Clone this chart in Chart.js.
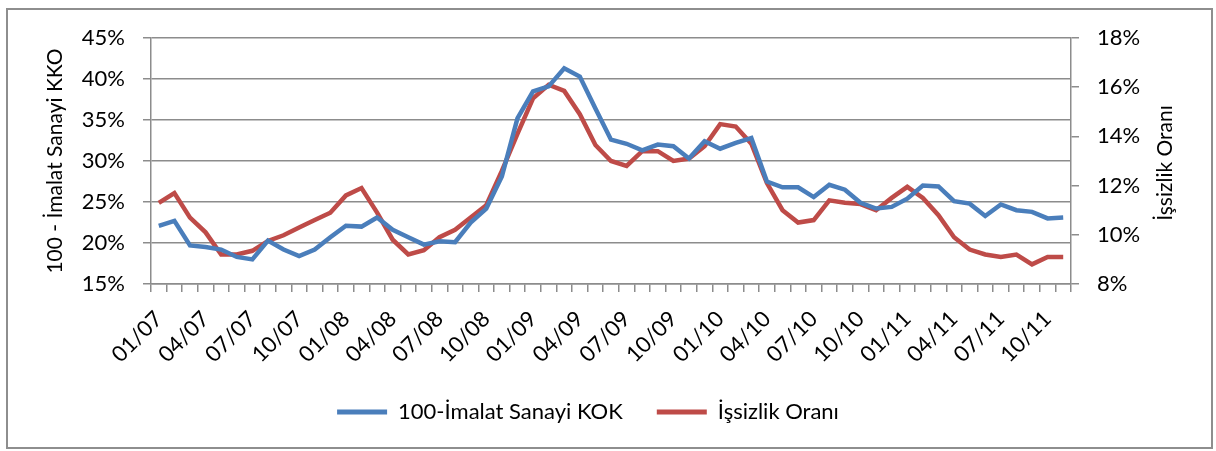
<!DOCTYPE html>
<html>
<head>
<meta charset="utf-8">
<script src="https://cdn.jsdelivr.net/npm/chart.js@4/dist/chart.umd.min.js"></script>
<style>
    html, body { margin: 0; padding: 0; background: #ffffff; }
    #wrap { position: relative; width: 1216px; height: 451px; }
    #frame {
        position: absolute; left: 6px; top: 8px; width: 1207px; height: 441px;
        box-sizing: border-box; border: 2px solid #8e8e8e; pointer-events: none;
    }
</style>
</head>
<body>
<div id="wrap">
    <canvas id="chart" width="1216" height="451"></canvas>
    <div id="frame"></div>
</div>
<script>
// Months, 01/07 .. 11/11
const months = [
    '01/07', '02/07', '03/07', '04/07', '05/07', '06/07', '07/07', '08/07', '09/07', '10/07', '11/07', '12/07',
    '01/08', '02/08', '03/08', '04/08', '05/08', '06/08', '07/08', '08/08', '09/08', '10/08', '11/08', '12/08',
    '01/09', '02/09', '03/09', '04/09', '05/09', '06/09', '07/09', '08/09', '09/09', '10/09', '11/09', '12/09',
    '01/10', '02/10', '03/10', '04/10', '05/10', '06/10', '07/10', '08/10', '09/10', '10/10', '11/10', '12/10',
    '01/11', '02/11', '03/11', '04/11', '05/11', '06/11', '07/11', '08/11', '09/11', '10/11', '11/11'
];

// Only every third month gets a label
const shownLabels = ['01/07', '04/07', '07/07', '10/07', '01/08', '04/08', '07/08', '10/08', '01/09', '04/09',
    '07/09', '10/09', '01/10', '04/10', '07/10', '10/10', '01/11', '04/11', '07/11', '10/11'];

// 100 - capacity utilisation (left axis, %)
const kok = [
    22.1, 22.7, 19.7, 19.5, 19.2, 18.3, 18.0, 20.3, 19.2, 18.4, 19.2, 20.7,
    22.1, 22.0, 23.1, 21.6, 20.7, 19.8, 20.2, 20.1, 22.5, 24.2, 28.1, 35.2,
    38.5, 39.1, 41.3, 40.3, 36.4, 32.6, 32.1, 31.3, 32.0, 31.8, 30.3, 32.4,
    31.5, 32.2, 32.8, 27.5, 26.8, 26.8, 25.6, 27.1, 26.5, 24.9, 24.2, 24.4,
    25.4, 27.0, 26.9, 25.1, 24.8, 23.3, 24.7, 24.0, 23.8, 23.0, 23.1
];

// Unemployment rate (right axis, %)
const issizlik = [
    11.3, 11.7, 10.7, 10.1, 9.2, 9.2, 9.35, 9.75, 9.98, 10.3, 10.6, 10.9,
    11.6, 11.9, 10.9, 9.8, 9.2, 9.37, 9.9, 10.2, 10.7, 11.2, 12.6, 14.1,
    15.55, 16.1, 15.85, 14.9, 13.65, 13.0, 12.8, 13.4, 13.4, 13.0, 13.1, 13.6,
    14.5, 14.4, 13.7, 12.1, 11.0, 10.5, 10.6, 11.4, 11.3, 11.25, 11.0, 11.5,
    11.95, 11.5, 10.8, 9.9, 9.4, 9.2, 9.1, 9.2, 8.8, 9.1, 9.1
];

const BLUE = '#4a7ebb';
const RED = '#be4b48';
const GRID = '#8c8c8c';
const FAMILY = 'Lato, "Open Sans", sans-serif';
const FONT = { family: FAMILY, size: 22 };
const TITLE_FONT = { family: FAMILY, size: 21 };

// Right axis title reads bottom-to-top like the left one
const rightTitle = {
    id: 'rightTitle',
    afterDraw(chart) {
        const ctx = chart.ctx;
        ctx.save();
        ctx.translate(1165, 163);
        ctx.rotate(-Math.PI / 2);
        ctx.font = TITLE_FONT.size + 'px ' + FAMILY;
        ctx.fillStyle = '#000';
        ctx.textAlign = 'center';
        ctx.textBaseline = 'middle';
        ctx.fillText('İşsizlik Oranı', 0, 0);
        ctx.restore();
    }
};

Chart.defaults.font.family = FAMILY;
Chart.defaults.font.size = FONT.size;
Chart.defaults.color = '#000';

new Chart(document.getElementById('chart'), {
    type: 'line',
    data: {
        labels: months,
        datasets: [
            {
                label: '100-İmalat Sanayi KOK',
                data: kok,
                yAxisID: 'y',
                borderColor: BLUE,
                backgroundColor: BLUE,
                borderWidth: 4.5,
                pointRadius: 0,
                tension: 0
            },
            {
                label: 'İşsizlik Oranı',
                data: issizlik,
                yAxisID: 'y2',
                borderColor: RED,
                backgroundColor: RED,
                borderWidth: 4.5,
                pointRadius: 0,
                tension: 0
            }
        ]
    },
    options: {
        responsive: false,
        animation: false,
        // right padding keeps the legend centred where the original has it
        layout: { padding: { top: 38, bottom: 18, left: 0, right: 40 } },
        plugins: {
            tooltip: { enabled: false },
            legend: {
                position: 'bottom',
                labels: {
                    boxWidth: 50,
                    boxHeight: 5,
                    padding: 34,
                    font: FONT,
                    generateLabels(chart) {
                        return chart.data.datasets.map((ds, i) => ({
                            text: ds.label,
                            fillStyle: ds.borderColor,
                            strokeStyle: ds.borderColor,
                            lineWidth: 0,
                            datasetIndex: i
                        }));
                    }
                }
            }
        },
        scales: {
            x: {
                offset: true,
                grid: { offset: true, drawOnChartArea: false, drawTicks: true, tickLength: 8, color: GRID, lineWidth: 1.5 },
                border: { color: GRID, width: 1.5 },
                ticks: {
                    autoSkip: false,
                    maxRotation: 45,
                    minRotation: 45,
                    padding: 14,
                    font: FONT,
                    callback(value) {
                        const m = months[value];
                        return shownLabels.includes(m) ? m : '';
                    }
                },
                afterFit(scale) { scale.height = 83; }
            },
            y: {
                position: 'left',
                min: 15,
                max: 45,
                grid: { color: GRID, lineWidth: 1.5, tickLength: 8 },
                border: { color: GRID, width: 1.5 },
                ticks: { stepSize: 5, padding: 18, font: FONT, callback: v => v + '%' },
                title: {
                    display: true,
                    text: '100 - İmalat Sanayi KKO',
                    font: TITLE_FONT,
                    padding: { top: 43, bottom: 0 }
                },
                afterFit(scale) { scale.width = 151; }
            },
            y2: {
                position: 'right',
                min: 8,
                max: 18,
                grid: { drawOnChartArea: false, color: GRID, lineWidth: 1.5, tickLength: 8 },
                border: { color: GRID, width: 1.5 },
                ticks: { stepSize: 2, padding: 18, font: FONT, callback: v => v + '%' },
                afterFit(scale) { scale.width = 105; }
            }
        }
    },
    plugins: [rightTitle]
});
</script>
</body>
</html>
